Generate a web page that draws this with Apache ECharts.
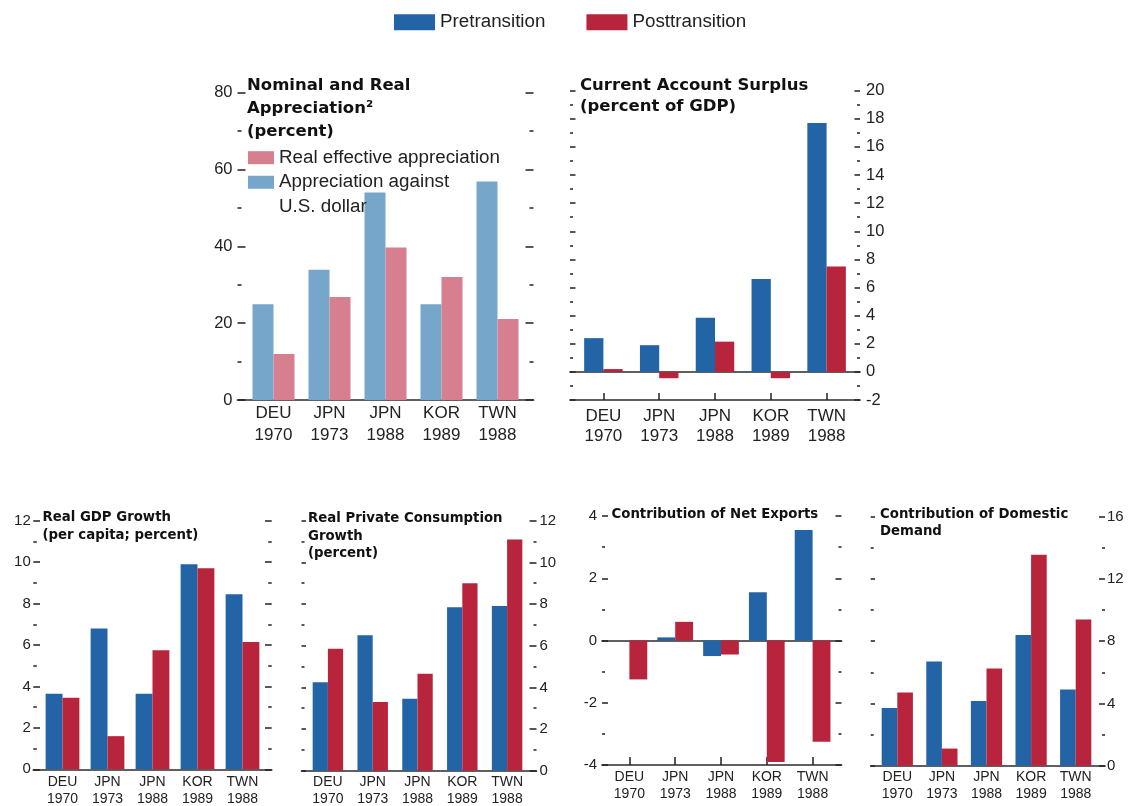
<!DOCTYPE html>
<html>
<head>
<meta charset="utf-8">
<script src="https://cdn.jsdelivr.net/npm/echarts@6/dist/echarts.min.js"></script>
<style>
  html, body { margin: 0; padding: 0; background: #fff; }
  #chart { width: 1131px; height: 806px; }
</style>
</head>
<body>
<div id="chart"></div>
<script>
// Episodes compared in every panel
const categories = ['DEU\n1970', 'JPN\n1973', 'JPN\n1988', 'KOR\n1989', 'TWN\n1988'];

// Nominal and real appreciation (percent)
const usdAppreciation = [24.9, 33.9, 54.0, 24.9, 56.9];
const realEffectiveAppreciation = [12.0, 26.8, 39.7, 32.0, 21.1];

// Current account surplus (percent of GDP)
const currentAccountPre = [2.4, 1.9, 3.85, 6.6, 17.7];
const currentAccountPost = [0.2, -0.45, 2.15, -0.45, 7.5];

// Real GDP growth (per capita; percent)
const gdpGrowthPre = [3.65, 6.8, 3.65, 9.9, 8.45];
const gdpGrowthPost = [3.45, 1.6, 5.75, 9.7, 6.15];

// Real private consumption growth (percent)
const consumptionPre = [4.25, 6.5, 3.45, 7.85, 7.9];
const consumptionPost = [5.85, 3.3, 4.65, 9.0, 11.1];

// Contribution of net exports
const netExportsPre = [0, 0.1, -0.5, 1.55, 3.55];
const netExportsPost = [-1.25, 0.6, -0.45, -3.9, -3.25];

// Contribution of domestic demand
const domesticDemandPre = [3.7, 6.7, 4.15, 8.4, 4.9];
const domesticDemandPost = [4.7, 1.1, 6.25, 13.55, 9.4];

// Value-axis scales: [min, max, labelled tick step]
const appreciationScale = [0, 80, 20];
const currentAccountScale = [-2, 20, 2];
const gdpScale = [0, 12, 2];
const consumptionScale = [0, 12, 2];
const netExportsScale = [-4, 4, 2];
const domesticDemandScale = [0, 16, 4];

const seriesNames = ['Pretransition', 'Posttransition'];
const appreciationNames = ['Appreciation against U.S. dollar', 'Real effective appreciation'];

const BLUE = '#2364a6';
const RED = '#b8243c';
const LIGHT_BLUE = '#76a6ca';
const PINK = '#d6808f';
const INK = '#222';
const REGULAR = 'Liberation Sans, Arial, sans-serif';
const BOLD = 'DejaVu Sans, sans-serif';

const panels = [
  { title: 'Nominal and Real\nAppreciation²\n(percent)', titlePos: [247, 74.5], titleSize: 16.5, titleLH: 23,
    frame: [237.5, 533.5], cat: [245.5, 525.5], top: 92.7, bottom: 400, scale: appreciationScale,
    side: 'left', tickLen: [8, 8], minorLen: 4, labelMargin: 5, tickFont: 16.5,
    catFont: 17, catLH: 22, catMargin: 2, catTicks: false, gap: '25%',
    names: appreciationNames, colors: [LIGHT_BLUE, PINK], data: [usdAppreciation, realEffectiveAppreciation] },
  { title: 'Current Account Surplus\n(percent of GDP)', titlePos: [580, 75.5], titleSize: 16.5, titleLH: 21,
    frame: [570, 860], cat: [575.5, 854.5], top: 90.7, bottom: 400, scale: currentAccountScale,
    side: 'right', tickLen: [5.5, 5.5], minorLen: 3, labelMargin: 6, tickFont: 16.5,
    catFont: 17, catLH: 20, catMargin: 6, catTicks: true, catTickLen: 7, gap: '31%',
    names: seriesNames, colors: [BLUE, RED], data: [currentAccountPre, currentAccountPost] },
  { title: 'Real GDP Growth\n(per capita; percent)', titlePos: [42.5, 508.5], titleSize: 13.3, titleLH: 18,
    frame: [33.3, 271.7], cat: [40, 265], top: 520.7, bottom: 769.3, scale: gdpScale,
    side: 'left', tickLen: [6.7, 6.7], minorLen: 3.5, labelMargin: 2.5, tickFont: 15,
    catFont: 14, catLH: 17, catMargin: 4, catTicks: false, gap: '25%',
    names: seriesNames, colors: [BLUE, RED], data: [gdpGrowthPre, gdpGrowthPost] },
  { title: 'Real Private Consumption\nGrowth\n(percent)', titlePos: [308, 510], titleSize: 13.3, titleLH: 17.5,
    frame: [301.5, 536.5], cat: [305.5, 529.5], top: 520.7, bottom: 770.7, scale: consumptionScale,
    side: 'right', tickLen: [4.5, 7], minorLen: 3, labelMargin: 3, tickFont: 15,
    catFont: 14, catLH: 17, catMargin: 3, catTicks: false, gap: '32%',
    names: seriesNames, colors: [BLUE, RED], data: [consumptionPre, consumptionPost] },
  { title: 'Contribution of Net Exports', titlePos: [611.5, 505.6], titleSize: 13.3, titleLH: 18,
    frame: [602, 841.5], cat: [606.5, 835.5], top: 516, bottom: 765, scale: netExportsScale,
    side: 'left', tickLen: [6, 6], minorLen: 3, labelMargin: 5, tickFont: 15,
    catFont: 14, catLH: 17, catMargin: 4, catTicks: true, catTickLen: 8, gap: '22%',
    names: seriesNames, colors: [BLUE, RED], data: [netExportsPre, netExportsPost] },
  { title: 'Contribution of Domestic\nDemand', titlePos: [880, 505.6], titleSize: 13.3, titleLH: 17.5,
    frame: [870.7, 1105], cat: [875, 1098], top: 516.7, bottom: 765.7, scale: domesticDemandScale,
    side: 'right', tickLen: [4.3, 6], minorLen: 3, labelMargin: 2, tickFont: 15,
    catFont: 14, catLH: 17, catMargin: 3.3, catTicks: false, gap: '30%',
    names: seriesNames, colors: [BLUE, RED], data: [domesticDemandPre, domesticDemandPost] }
];

const grids = [], xAxes = [], yAxes = [], series = [], titles = [];
const tickStyle = { color: INK, width: 1.5 };
const baseStyle = { color: '#2b2b2b', width: 1.7 };

panels.forEach(p => {
  const [min, max, step] = p.scale;
  const height = p.bottom - p.top;

  // outer frame: value ticks on both sides and the horizontal rules
  const fg = grids.length;
  grids.push({ left: p.frame[0], top: p.top, width: p.frame[1] - p.frame[0], height, outerBoundsMode: 'none' });
  ['left', 'right'].forEach((pos, k) => {
    yAxes.push({
      gridIndex: fg, type: 'value', position: pos, min, max, interval: step,
      axisLine: { show: false, onZero: false },
      axisTick: { show: true, inside: true, length: p.tickLen[k], lineStyle: tickStyle },
      minorTick: { show: true, splitNumber: 2, length: p.minorLen, lineStyle: tickStyle },
      splitLine: { show: false },
      axisLabel: { show: pos === p.side, margin: p.labelMargin, fontSize: p.tickFont, color: INK, fontFamily: REGULAR }
    });
  });
  const rule = {
    gridIndex: fg, type: 'value', min: 0, max: 1, position: 'bottom',
    axisTick: { show: false }, axisLabel: { show: false }, splitLine: { show: false }
  };
  xAxes.push(Object.assign({}, rule, { axisLine: { show: true, onZero: true, lineStyle: baseStyle } }));
  if (min < 0) {
    xAxes.push(Object.assign({}, rule, { axisLine: { show: true, onZero: false, lineStyle: baseStyle } }));
  }

  // inner band holding the bar groups
  const dg = grids.length;
  grids.push({ left: p.cat[0], top: p.top, width: p.cat[1] - p.cat[0], height, outerBoundsMode: 'none' });
  const xi = xAxes.length;
  xAxes.push({
    gridIndex: dg, type: 'category', data: categories, position: 'bottom',
    axisLine: { show: false, onZero: false },
    axisTick: { show: p.catTicks, inside: true, alignWithLabel: true, length: p.catTickLen || 6, lineStyle: tickStyle },
    axisLabel: { interval: 0, margin: p.catMargin, fontSize: p.catFont, lineHeight: p.catLH, color: INK, fontFamily: REGULAR },
    splitLine: { show: false }
  });
  const yi = yAxes.length;
  yAxes.push({ gridIndex: dg, type: 'value', min, max, show: false, axisLine: { onZero: false }, splitLine: { show: false } });

  p.names.forEach((name, k) => {
    series.push({
      type: 'bar', name, data: p.data[k], xAxisIndex: xi, yAxisIndex: yi,
      barGap: '0%', barCategoryGap: p.gap,
      itemStyle: { color: p.colors[k] }
    });
  });

  titles.push({
    text: p.title, left: p.titlePos[0], top: p.titlePos[1], padding: 0,
    textStyle: { fontFamily: BOLD, fontWeight: 'bold', fontSize: p.titleSize, lineHeight: p.titleLH, color: '#111' }
  });
});

// The two-line legend entry gets an empty leading line so that its first
// line sits level with the swatch (legend text is centred on the swatch).
const legends = [
  { data: seriesNames, left: 394, top: 11.3, itemWidth: 41, itemHeight: 16, itemGap: 41,
    textStyle: { fontSize: 18.8, lineHeight: 22, color: INK, fontFamily: REGULAR } },
  { data: [appreciationNames[1]], left: 248, top: 146.7, itemWidth: 26, itemHeight: 13,
    textStyle: { fontSize: 18.8, lineHeight: 22, color: INK, fontFamily: REGULAR } },
  { data: [appreciationNames[0]], left: 248, top: 145.5, itemWidth: 26, itemHeight: 13,
    formatter: () => ' \nAppreciation against\nU.S. dollar',
    textStyle: { fontSize: 18.8, lineHeight: 24.5, color: INK, fontFamily: REGULAR } }
].map(l => Object.assign({ icon: 'rect', orient: 'horizontal', padding: 0, selectedMode: false }, l));

const chart = echarts.init(document.getElementById('chart'), null, { renderer: 'canvas' });
chart.setOption({
  animation: false,
  backgroundColor: '#fff',
  title: titles,
  legend: legends,
  grid: grids,
  xAxis: xAxes,
  yAxis: yAxes,
  series
});
</script>
</body>
</html>
